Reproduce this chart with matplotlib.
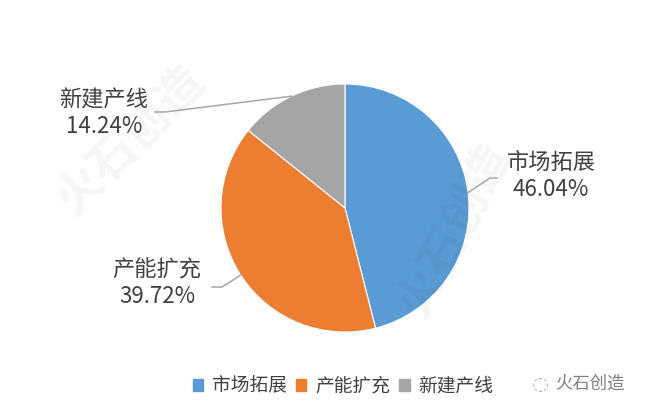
import numpy as np
import matplotlib
matplotlib.use("Agg")
import matplotlib.pyplot as plt

plt.rcParams['font.family'] = ['Noto Sans CJK SC', 'DejaVu Sans']

# data
categories = ['市场拓展', '产能扩充', '新建产线']
shares = [46.04, 39.72, 14.24]
colors = ['#5B9BD5', '#ED7D31', '#A5A5A5']

W, H = 670, 413
fig = plt.figure(figsize=(6.7, 4.13), dpi=100)
ax = fig.add_axes([0, 0, 1, 1])

# faint watermarks (kept inside the canvas)
for (x, y, rot, fs) in [(130, 413 - 140, 45, 34), (455, 413 - 230, 62, 34)]:
    ax.text(x, y, '火石创造', fontsize=fs, color='#000000', alpha=0.04,
            rotation=rot, ha='center', va='center', fontweight='bold')

cx, cy, r = 345, 413 - 208, 124
wedges, _ = ax.pie(shares, colors=colors, startangle=90, counterclock=False,
                   center=(cx, cy), radius=r, frame=True,
                   wedgeprops=dict(edgecolor='white', linewidth=0.8))
ax.set_xlim(0, W)
ax.set_ylim(0, H)
ax.set_aspect('equal')
ax.axis('off')

# label layout: elbow start, elbow end, text centre (pixel coords)
layout = [
    ((490, 178), (497, 178), (551, 176)),
    ((222, 287), (212, 287), (157, 283)),
    ((165, 112), (155, 112), (104, 113)),
]
for w, name, val, (e1, e2, tc) in zip(wedges, categories, shares, layout):
    mid = np.deg2rad((w.theta1 + w.theta2) / 2)
    px, py = cx + r * np.cos(mid), cy + r * np.sin(mid)
    xs = [px, e1[0], e2[0]]
    ys = [py, H - e1[1], H - e2[1]]
    ax.plot(xs, ys, color='#A6A6A6', lw=1.1, zorder=5)
    ax.text(tc[0], H - tc[1], f'{name}\n{val:.2f}%', ha='center', va='center',
            fontsize=16, color='#404040', linespacing=1.2)

handles = [plt.Rectangle((0, 0), 1, 1, color=c) for c in colors]
fig.legend(handles, categories, loc='center', bbox_to_anchor=(343 / W, 1 - 386 / H),
           ncol=3, frameon=False, fontsize=13.5, labelcolor='#404040',
           handlelength=0.55, handleheight=0.55, handletextpad=0.45,
           columnspacing=0.5)

ax.text(555, H - 384, '火石创造', fontsize=12.5, color='#808080', ha='left', va='center')
ax.text(532, H - 384, '◌', fontsize=14, color='#B0B0B0', ha='left', va='center',
        family=['DejaVu Sans'])

fig.savefig('out.png', dpi=100)
